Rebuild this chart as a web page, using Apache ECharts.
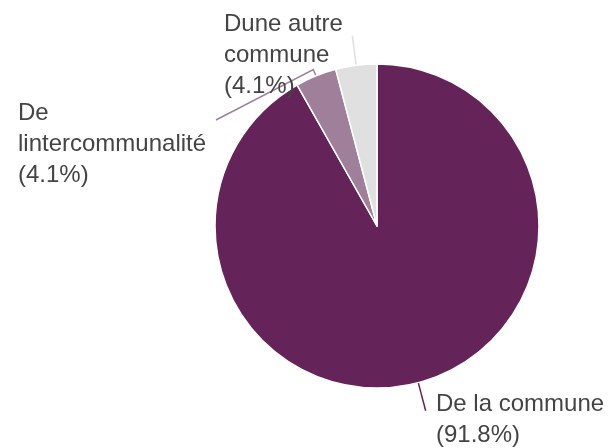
<!DOCTYPE html>
<html>
<head>
<meta charset="utf-8">
<script src="https://cdn.jsdelivr.net/npm/echarts@6/dist/echarts.min.js"></script>
<style>
  html, body { margin: 0; padding: 0; background: #fff; }
  #chart { width: 609px; height: 448px; }
</style>
</head>
<body>
<div id="chart"></div>
<script>
// Origine des répondants
const categories = ['De la commune', 'De lintercommunalité', 'Dune autre commune'];
const labelLines = ['De la commune', 'De\nlintercommunalité', 'Dune autre\ncommune'];
const values = [91.8, 4.1, 4.1];
const colors = ['#642459', '#a07f9a', '#e0e0e0'];

// Top-left anchor of each label block
const labelAnchors = [
  { x: 436, y: 389 },
  { x: 18, y: 98 },
  { x: 224, y: 9 }
];

// Leader line shape: radial stub length, optional end point next to the label
const guides = [
  { stub: 29 },
  { stub: 7, end: [216, 120] },
  { stub: 30 }
];

const chart = echarts.init(document.getElementById('chart'), null, { renderer: 'canvas' });

chart.setOption({
  animation: false,
  series: [{
    type: 'pie',
    center: [377, 226],
    radius: [0, 162],
    startAngle: 90,
    clockwise: true,
    avoidLabelOverlap: false,
    data: categories.map((name, i) => ({
      name: name,
      value: values[i],
      itemStyle: { color: colors[i] },
      labelLine: { lineStyle: { color: colors[i] } }
    })),
    itemStyle: { borderColor: '#fff', borderWidth: 1.5 },
    label: {
      show: true,
      position: 'outside',
      color: '#444',
      fontFamily: 'Liberation Sans, Arial, sans-serif',
      fontSize: 24,
      lineHeight: 31,
      align: 'left',
      formatter: p => labelLines[p.dataIndex] + '\n(' + values[p.dataIndex] + '%)'
    },
    labelLine: {
      show: true,
      length: 8,
      length2: 10,
      smooth: false,
      lineStyle: { width: 1.5 }
    },
    labelLayout: p => {
      const i = p.dataIndex;
      const out = {
        x: labelAnchors[i].x,
        y: labelAnchors[i].y,
        align: 'left',
        verticalAlign: 'top'
      };
      const pts = p.labelLinePoints;
      if (pts && pts.length >= 2) {
        const p0 = pts[0];
        const dx = pts[1][0] - p0[0], dy = pts[1][1] - p0[1];
        const len = Math.hypot(dx, dy) || 1;
        const g = guides[i];
        const p1 = [p0[0] + dx / len * g.stub, p0[1] + dy / len * g.stub];
        out.labelLinePoints = g.end ? [p0, p1, g.end] : [p0, p1];
      }
      return out;
    }
  }]
});
</script>
</body>
</html>
